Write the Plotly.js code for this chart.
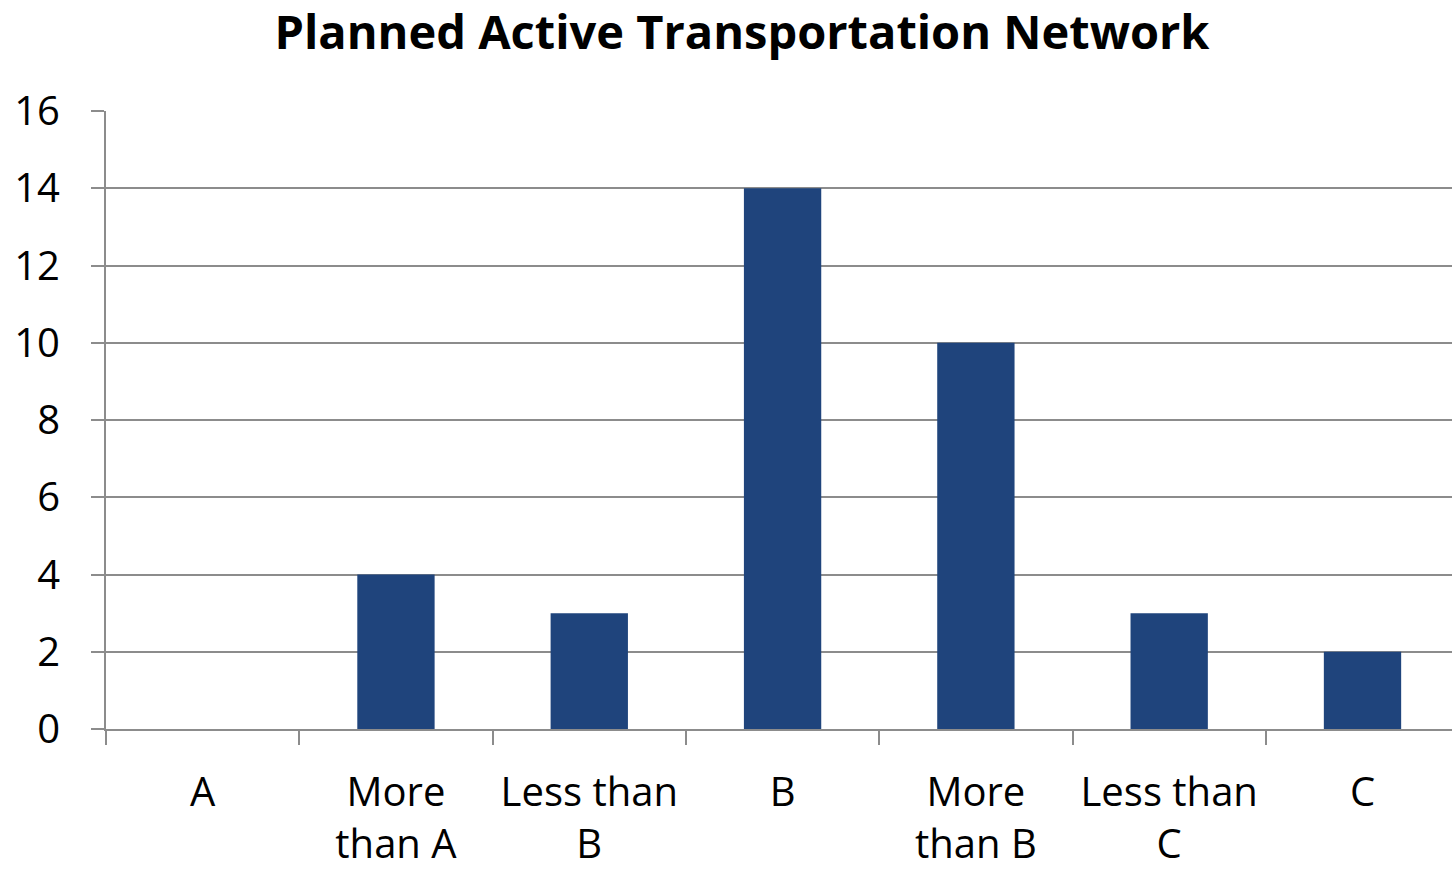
<!DOCTYPE html>
<html>
<head>
<meta charset="utf-8">
<script src="https://cdn.plot.ly/plotly-3.0.1.min.js"></script>
<style>html,body{margin:0;padding:0;background:#fff;}#chart{width:1452px;height:869px;}</style>
</head>
<body>
<div id="chart"></div>
<script>
const categories = ["A", "More<br>than A", "Less than<br>B", "B", "More<br>than B", "Less than<br>C", "C"];
const values = [0, 4, 3, 14, 10, 3, 2];
const yTicks = [0, 2, 4, 6, 8, 10, 12, 14, 16];

const font = "Open Sans, Noto Sans, Liberation Sans, sans-serif";
const gridColor = "#8c8c8c";

const trace = {
  type: "bar",
  x: categories,
  y: values,
  marker: {color: "#1f447c", line: {width: 0}},
  hoverinfo: "skip"
};

const layout = {
  width: 1452,
  height: 869,
  paper_bgcolor: "#ffffff",
  plot_bgcolor: "#ffffff",
  margin: {l: 106, r: 0, t: 111, b: 140},
  bargap: 0.6,
  showlegend: false,
  title: {
    text: "<b>Planned Active Transportation Network</b>",
    font: {family: font, size: 47, color: "#000"},
    x: 0.511, xanchor: "center", y: 0.963, yanchor: "middle"
  },
  xaxis: {
    type: "category",
    range: [-0.5, 6.463],
    showline: true, linecolor: gridColor, linewidth: 2,
    ticks: "outside", tickson: "boundaries", ticklen: 14, tickwidth: 2, tickcolor: gridColor,
    showgrid: false,
    tickfont: {family: font, size: 40, color: "#000"},
    ticklabelstandoff: 27
  },
  yaxis: {
    range: [0, 16],
    tickvals: yTicks,
    ticktext: yTicks.map(String),
    showline: true, linecolor: gridColor, linewidth: 2,
    ticks: "outside", ticklen: 13, tickwidth: 2, tickcolor: gridColor,
    showgrid: true, gridcolor: gridColor, gridwidth: 2,
    zeroline: false,
    tickfont: {family: font, size: 40, color: "#000"},
    ticklabelstandoff: 23
  }
};

Plotly.newPlot("chart", [trace], layout, {displayModeBar: false, staticPlot: true});
</script>
</body>
</html>
